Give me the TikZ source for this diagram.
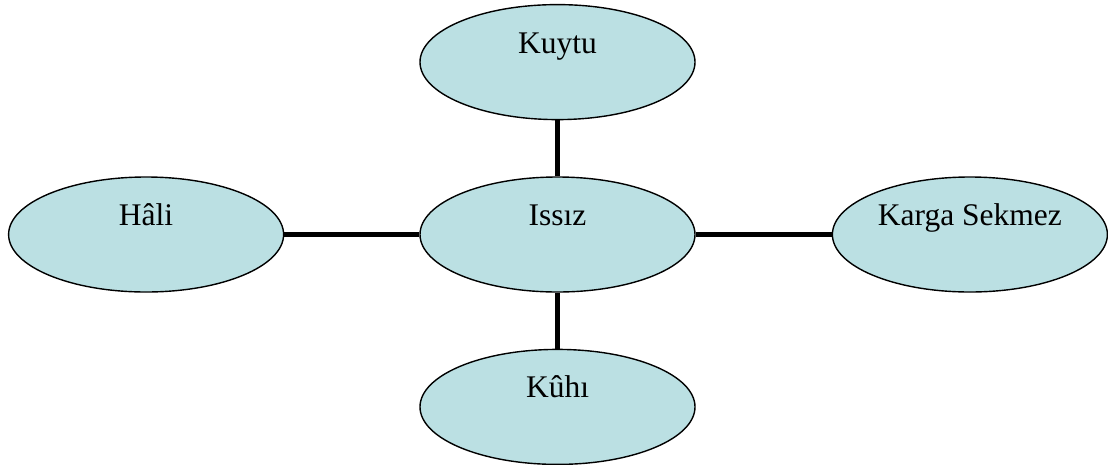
\documentclass[tikz,border=0pt]{standalone}
\usepackage{fontspec}
\setmainfont{Liberation Serif}
\usepackage{xcolor}
\usetikzlibrary{positioning,shapes.geometric}

\definecolor{bubblefill}{RGB}{187,224,227}

\begin{document}
\begin{tikzpicture}[
  x=1pt, y=-1pt,
  node distance=56pt and 136pt,
  bubble/.style={ellipse, draw, fill=bubblefill, line width=1.4pt,
    minimum width=275pt, minimum height=115pt, inner sep=0pt,
    text height=22pt, text depth=40pt,
    font=\fontsize{31.5}{36}\selectfont},
  link/.style={line width=5pt},
]
  \useasboundingbox (0,0) rectangle (1108,464);
  % Centre
  \node[bubble] (issiz) at (557.5,234.5) {Issız};
  % Neighbours
  \node[bubble, above=of issiz] (kuytu) {Kuytu};
  \node[bubble, below=of issiz] (kuhi) {Kûhı};
  \node[bubble, left=135pt of issiz] (hali) {Hâli};
  \node[bubble, right=of issiz] (karga) {Karga Sekmez};
  % Links
  \draw[link] (issiz) -- (kuytu);
  \draw[link] (issiz) -- (kuhi);
  \draw[link] (issiz) -- (hali);
  \draw[link] (issiz) -- (karga);
\end{tikzpicture}
\end{document}
